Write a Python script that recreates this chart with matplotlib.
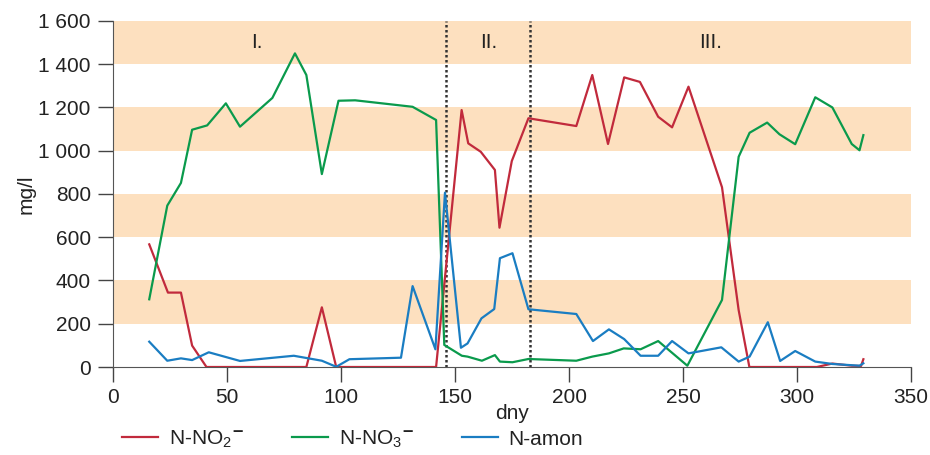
import numpy as np
import matplotlib.pyplot as plt

plt.rcParams['font.family'] = ['Liberation Sans', 'DejaVu Sans']
plt.rcParams['mathtext.fontset'] = 'custom'
plt.rcParams['mathtext.rm'] = 'Liberation Sans'
plt.rcParams['mathtext.it'] = 'Liberation Sans'

# data (day, mg/l)
no2_x = [15.9, 24.1, 29.8, 34.7, 41.0, 84.8, 91.6, 97.9, 141.7, 152.9, 155.8, 161.3,
         167.5, 169.5, 174.9, 182.2, 203.2, 210.2, 217.1, 224.2, 231.1, 239.1, 245.2,
         252.4, 267.1, 274.4, 279.1, 308.7, 315.5, 324.0, 328.1, 329.1]
no2_y = [567, 344, 344, 99, 0, 0, 276, 0, 0, 1188, 1034, 995,
         911, 644, 952, 1150, 1114, 1350, 1031, 1339, 1318, 1157, 1108,
         1296, 831, 263, 0, 0, 16, 6, 5, 36]

no3_x = [15.9, 23.8, 29.8, 34.7, 41.3, 49.5, 55.7, 69.9, 79.8, 84.8, 91.6, 98.9,
         106.2, 131.4, 141.7, 145.3, 153.0, 155.5, 161.8, 167.5, 169.7, 175.2, 182.2,
         203.2, 210.2, 217.5, 224.0, 231.4, 239.1, 251.9, 267.1, 274.4, 279.2, 286.9,
         292.3, 299.2, 308.0, 315.5, 324.0, 327.4, 329.1]
no3_y = [313, 746, 851, 1097, 1117, 1219, 1111, 1244, 1450, 1350, 892, 1231,
         1233, 1203, 1142, 102, 52, 48, 29, 55, 25, 22, 37,
         29, 48, 63, 86, 82, 120, 6, 310, 972, 1083, 1130,
         1076, 1030, 1247, 1200, 1031, 1002, 1072]

amon_x = [15.9, 23.8, 29.8, 34.7, 42.0, 55.7, 79.3, 91.6, 97.9, 103.7, 126.3, 131.4,
          141.4, 145.6, 152.6, 155.5, 161.6, 167.2, 169.7, 175.2, 182.2, 203.2, 210.5,
          217.5, 224.2, 231.4, 239.1, 245.2, 252.4, 266.8, 274.4, 279.2, 287.2, 292.6,
          299.2, 308.0, 315.5, 327.4, 329.1]
amon_y = [117, 29, 40, 32, 68, 28, 52, 29, 1, 36, 43, 374,
          82, 806, 89, 109, 225, 268, 503, 526, 267, 245, 120,
          174, 129, 52, 52, 120, 63, 91, 25, 48, 207, 28,
          74, 25, 14, 6, 17]

bands = [(200, 400), (600, 800), (1000, 1200), (1400, 1600)]
phase_bounds = [146, 183]
phase_labels = ['I.', 'II.', 'III.']
phase_label_x = [63, 165, 262]

red = '#c12a3c'
green = '#0a9a4c'
blue = '#1a7dc2'
txt = '#222222'

fig = plt.figure(figsize=(9.3, 4.55), dpi=100)
ax = fig.add_axes([0.1215, 0.1934, 0.8581, 0.7606])

for lo, hi in bands:
    ax.axhspan(lo, hi, color='#fde0bf', lw=0, zorder=0)

for b in phase_bounds:
    ax.axvline(b, color='#333333', ls=(0, (1, 1)), lw=1.8, zorder=1)

for lx, lab in zip(phase_label_x, phase_labels):
    ax.text(lx, 1500, lab, ha='center', va='center', fontsize=15, color=txt)

ax.plot(no2_x, no2_y, color=red, lw=1.6, label=r'N-NO$_2$$^{\mathbf{-}}$', zorder=3)
ax.plot(no3_x, no3_y, color=green, lw=1.6, label=r'N-NO$_3$$^{\mathbf{-}}$', zorder=3)
ax.plot(amon_x, amon_y, color=blue, lw=1.6, label='N-amon', zorder=3)

ax.set_xlim(0, 350)
ax.set_ylim(0, 1600)
ax.set_xticks(np.arange(0, 351, 50))
yt = np.arange(0, 1601, 200)
ax.set_yticks(yt)
ax.set_yticklabels([f'{v:,}'.replace(',', ' ') for v in yt])
ax.tick_params(labelsize=15, length=11, width=1, color='#444444',
               labelcolor=txt, direction='out')
ax.tick_params(axis='y', pad=5)
ax.tick_params(axis='x', pad=4)

for s in ['top', 'right']:
    ax.spines[s].set_visible(False)
for s in ['left', 'bottom']:
    ax.spines[s].set_color('#555555')

ax.set_xlabel('dny', fontsize=15, labelpad=-2, color=txt)
ax.set_ylabel('mg/l', fontsize=15, labelpad=2, color=txt)

fig.legend(loc='lower left', bbox_to_anchor=(0.111, -0.03), ncol=3, frameon=False,
           fontsize=15, handlelength=1.75, handletextpad=0.5, columnspacing=2.3,
           labelcolor=txt)

fig.savefig('out.png', dpi=100)
